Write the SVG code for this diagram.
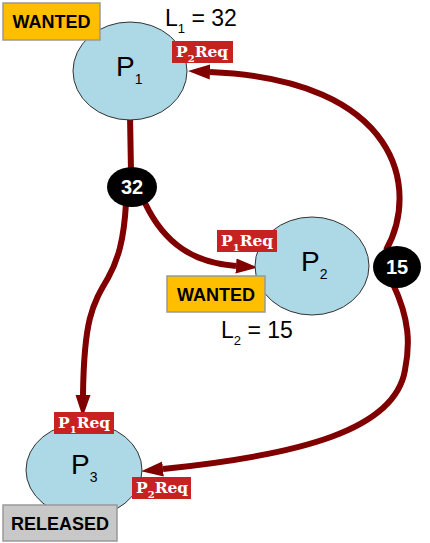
<svg xmlns="http://www.w3.org/2000/svg" width="430" height="543" viewBox="0 0 430 543">
<style>
.proc{fill:#ADD8E6;stroke:#333;stroke-width:1}
.conn{fill:none;stroke:#800000;stroke-width:6}
.state{stroke:#999;stroke-width:1.5}
.stt{font-family:"Liberation Sans",Arial,sans-serif;font-weight:bold;font-size:18px;fill:#000;text-anchor:middle}
.big{font-family:"Liberation Sans",Arial,sans-serif;font-size:28px;fill:#000}
.sub{font-size:14px}
.lbl{font-family:"Liberation Sans",Arial,sans-serif;font-size:23px;fill:#000}
.lsub{font-size:13px}
.req{fill:#C62222}
.reqt{font-family:"DejaVu Serif",serif;font-weight:bold;font-size:15.5px;fill:#fff}
.rsub{font-size:10px}
.dot{fill:#000}
.dott{font-family:"Liberation Sans",Arial,sans-serif;font-weight:bold;font-size:20px;fill:#fff;text-anchor:middle}
</style>
<defs>
<marker id="ah" markerUnits="userSpaceOnUse" markerWidth="24" markerHeight="18" viewBox="0 -9 24 18" refX="0" refY="0" orient="auto">
<path d="M0,-7.5 L22,0 L0,7.5 z" fill="#800000"/>
</marker>
</defs>
<g id="connectors">
<path class="conn" d="M130 115 L131 172" stroke-width="7"/>
<path class="conn" d="M145 203 C 165 245, 195 263, 236 266" marker-end="url(#ah)"/>
<path class="conn" d="M126 203 C 124 240, 118 260, 108 278 C 92 305, 84 320, 83 395" marker-end="url(#ah)"/>
<path class="conn" d="M386 250 C 420 190, 400 80, 210 72" marker-end="url(#ah)"/>
<path class="conn" d="M393 284 C 410 320, 410 345, 405 370 C 395 430, 300 455, 163 469" marker-end="url(#ah)"/>
</g>
<g id="P1">
<ellipse class="proc" cx="130" cy="71" rx="57" ry="49"/>
<text class="big" x="116" y="76">P<tspan class="sub" dy="8">1</tspan></text>
</g>
<g id="P2">
<ellipse class="proc" cx="312" cy="266" rx="57" ry="49"/>
<text class="big" x="301" y="271">P<tspan class="sub" dy="8">2</tspan></text>
</g>
<g id="P3">
<ellipse class="proc" cx="84" cy="470" rx="58" ry="47"/>
<text class="big" x="71" y="474">P<tspan class="sub" dy="8">3</tspan></text>
</g>
<g id="wanted1">
<rect class="state" x="3" y="3" width="97" height="37" fill="#FFBF00"/>
<text class="stt" x="51.5" y="28">WANTED</text>
</g>
<g id="wanted2">
<rect class="state" x="167" y="276" width="98" height="36" fill="#FFBF00"/>
<text class="stt" x="216" y="300.5">WANTED</text>
</g>
<g id="released">
<rect class="state" x="3" y="505" width="114" height="36" fill="#C8C8C8"/>
<text class="stt" x="60" y="529.5">RELEASED</text>
</g>
<g id="L1">
<text class="lbl" x="165" y="26">L<tspan class="lsub" dy="7">1</tspan><tspan dy="-7"> = 32</tspan></text>
</g>
<g id="L2">
<text class="lbl" x="221" y="338">L<tspan class="lsub" dy="7">2</tspan><tspan dy="-7"> = 15</tspan></text>
</g>
<g id="req-P2-at-P1">
<rect class="req" x="172" y="41" width="61" height="22"/>
<text class="reqt" x="176" y="57">P<tspan class="rsub" dy="5">2</tspan><tspan dy="-5">Req</tspan></text>
</g>
<g id="req-P1-at-P2">
<rect class="req" x="217" y="230" width="60" height="22"/>
<text class="reqt" x="221" y="246">P<tspan class="rsub" dy="5">1</tspan><tspan dy="-5">Req</tspan></text>
</g>
<g id="req-P1-at-P3">
<rect class="req" x="54" y="412" width="60" height="22"/>
<text class="reqt" x="58" y="428">P<tspan class="rsub" dy="5">1</tspan><tspan dy="-5">Req</tspan></text>
</g>
<g id="req-P2-at-P3">
<rect class="req" x="132" y="477" width="59" height="22"/>
<text class="reqt" x="136" y="493">P<tspan class="rsub" dy="5">2</tspan><tspan dy="-5">Req</tspan></text>
</g>
<g id="n32">
<ellipse class="dot" cx="132" cy="187" rx="25" ry="20"/>
<text class="dott" x="132" y="194">32</text>
</g>
<g id="n15">
<ellipse class="dot" cx="397" cy="267" rx="24" ry="21"/>
<text class="dott" x="397" y="274">15</text>
</g>
</svg>
